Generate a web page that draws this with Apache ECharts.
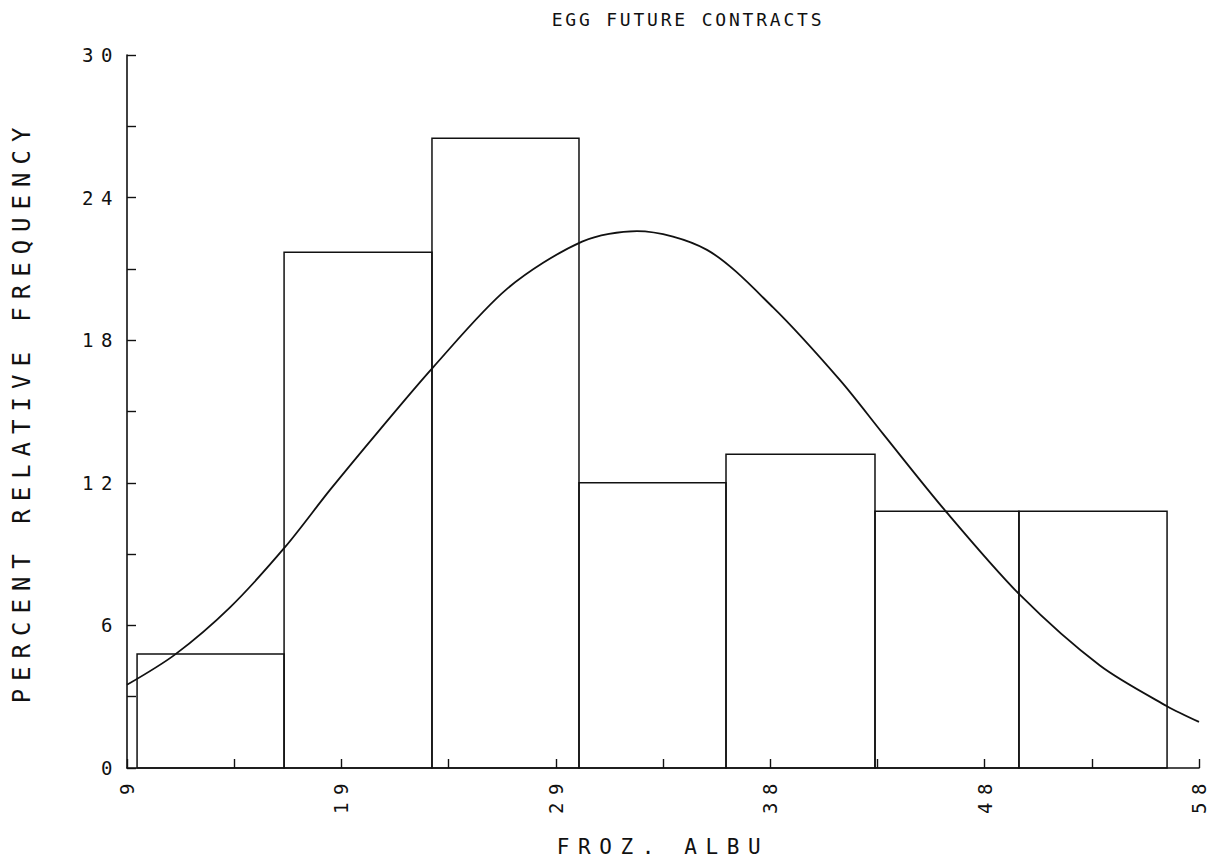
<!DOCTYPE html>
<html>
<head>
<meta charset="utf-8">
<script src="https://cdn.jsdelivr.net/npm/echarts@6/dist/echarts.min.js"></script>
<style>
html, body { margin: 0; padding: 0; background: #fff; }
#c { width: 1217px; height: 865px; }
#c text[style*="18px"] { letter-spacing: 2.8px; }
#c text[style*="19px"] { letter-spacing: 7.5px; }
#c text[style*="21px"] { letter-spacing: 8.6px; }
#c text[style*="24px"] { letter-spacing: 8px; }
</style>
</head>
<body>
<div id="c"></div>
<script>
// ---- data ----
const titleText = 'EGG FUTURE CONTRACTS';
const xName = 'FROZ. ALBU';
const yName = 'PERCENT RELATIVE FREQUENCY';

const xTickValues = [9, 13.9, 18.8, 23.7, 28.6, 33.5, 38.4, 43.3, 48.2, 53.1, 58];
const xLabelValues = [9, 18.8, 28.6, 38.4, 48.2, 58];
const yLabelValues = [0, 6, 12, 18, 24, 30];

const binLeft  = [9.46, 16.18, 22.94, 29.66, 36.38, 43.19, 49.77];
const binRight = [16.18, 22.94, 29.66, 36.38, 43.19, 49.77, 56.54];
const percent  = [4.8, 21.7, 26.5, 12.0, 13.2, 10.8, 10.8];

const curveX = [9.0, 11.19, 13.71, 16.22, 18.28, 20.56, 22.99, 26.37, 29.80, 32.31, 35.51, 38.53, 41.59, 43.56, 46.39, 49.82, 53.47, 56.54, 58.0];
const curveY = [3.5, 4.77, 6.76, 9.29, 11.70, 14.24, 16.86, 20.16, 22.15, 22.59, 21.80, 19.38, 16.32, 14.06, 10.84, 7.28, 4.31, 2.60, 1.94];

// ---- chart ----
const ink = '#111';
const mono = '"DejaVu Sans Mono", monospace';

const chart = echarts.init(document.getElementById('c'), null, { renderer: 'svg', width: 1217, height: 865 });

const barData = binLeft.map((l, i) => [l, binRight[i], percent[i]]);
const curveData = curveX.map((x, i) => [x, curveY[i]]);

chart.setOption({
  animation: false,
  backgroundColor: '#fff',
  grid: { left: 127, right: 18, top: 55, bottom: 97 },
  graphic: [{
    type: 'text', x: 688, y: 19,
    style: { text: titleText, fill: ink, fontSize: 18, fontFamily: mono, textAlign: 'center', textVerticalAlign: 'middle' }
  }],
  xAxis: {
    type: 'value', min: 9, max: 58,
    name: xName, nameLocation: 'middle', nameGap: 68,
    nameTextStyle: { fontSize: 21, fontFamily: mono, color: ink },
    axisLine: { show: true, onZero: false, lineStyle: { color: ink, width: 1.6 } },
    axisTick: { show: true, inside: true, length: 9, customValues: xTickValues, lineStyle: { color: ink, width: 1.4 } },
    axisLabel: { customValues: xLabelValues, rotate: 90, margin: 8, fontSize: 19, fontFamily: mono, color: ink,
      formatter: v => String(Math.round(v)) },
    splitLine: { show: false }
  },
  yAxis: {
    type: 'value', min: 0, max: 30, interval: 3,
    name: yName, nameLocation: 'middle', nameGap: 93, nameRotate: 90,
    nameTextStyle: { fontSize: 24, fontFamily: mono, color: ink },
    axisLine: { show: true, onZero: false, lineStyle: { color: ink, width: 1.6 } },
    axisTick: { show: true, inside: true, length: 9, lineStyle: { color: ink, width: 1.4 } },
    axisLabel: { customValues: yLabelValues, margin: 7, fontSize: 19, fontFamily: mono, color: ink },
    splitLine: { show: false }
  },
  series: [
    {
      type: 'custom',
      data: barData,
      encode: { x: [0, 1], y: 2 },
      renderItem: function (params, api) {
        const p0 = api.coord([api.value(0), 0]);
        const p1 = api.coord([api.value(1), api.value(2)]);
        return {
          type: 'rect',
          shape: { x: p0[0], y: p1[1], width: p1[0] - p0[0], height: p0[1] - p1[1] },
          style: { fill: 'none', stroke: ink, lineWidth: 1.5 }
        };
      },
      z: 2
    },
    {
      type: 'line',
      data: curveData,
      smooth: 0.3,
      showSymbol: false,
      symbol: 'none',
      lineStyle: { color: ink, width: 1.8 },
      z: 3
    }
  ]
});
</script>
</body>
</html>
